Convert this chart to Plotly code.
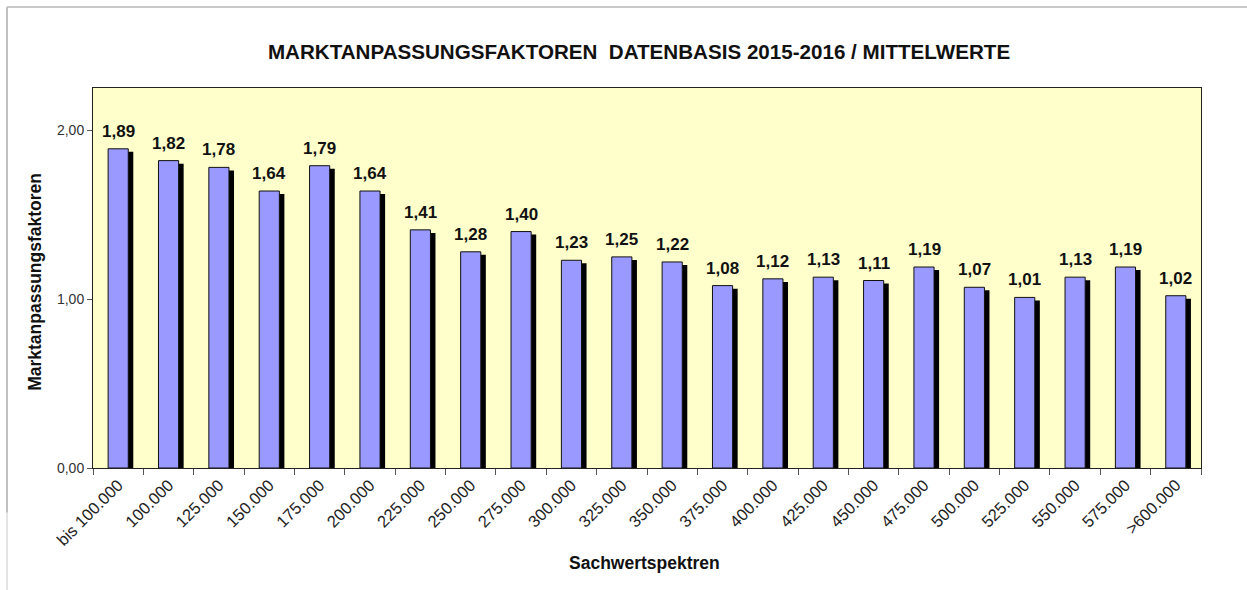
import plotly.graph_objects as go

categories = ["bis 100.000", "100.000", "125.000", "150.000", "175.000", "200.000",
              "225.000", "250.000", "275.000", "300.000", "325.000", "350.000",
              "375.000", "400.000", "425.000", "450.000", "475.000", "500.000",
              "525.000", "550.000", "575.000", ">600.000"]
values = [1.89, 1.82, 1.78, 1.64, 1.79, 1.64, 1.41, 1.28, 1.40, 1.23, 1.25, 1.22,
          1.08, 1.12, 1.13, 1.11, 1.19, 1.07, 1.01, 1.13, 1.19, 1.02]
y_ticks = [0, 1, 2]

FONT = "Liberation Sans, Arial, sans-serif"

fig = go.Figure()
# shadow
fig.add_bar(x=categories, y=values, base=-0.018, width=0.4, offset=-0.1,
            marker=dict(color="#000000", line=dict(width=0)), hoverinfo="skip",
            showlegend=False)
# main bars
fig.add_bar(x=categories, y=values, width=0.4, offset=-0.2,
            marker=dict(color="#9999FF", line=dict(color="#111111", width=1)),
            showlegend=False)

for i, v in enumerate(values):
    fig.add_annotation(x=i, y=v, text=f"{v:.2f}".replace(".", ","), showarrow=False,
                       yanchor="bottom", yshift=6,
                       font=dict(family=FONT, size=17, color="#111111", weight="bold"))

fig.add_annotation(x=0.498, y=-0.25, xref="paper", yref="paper", text="Sachwertspektren",
                   showarrow=False, xanchor="center", yanchor="middle",
                   font=dict(family=FONT, size=17.5, color="#111111", weight="bold"))
fig.add_annotation(x=-0.0523, y=0.49, xref="paper", yref="paper", text="Marktanpassungsfaktoren",
                   showarrow=False, xanchor="center", yanchor="middle", textangle=-90,
                   font=dict(family=FONT, size=17.5, color="#111111", weight="bold"))

fig.update_layout(
    width=1247, height=590,
    margin=dict(l=93, r=46, t=88, b=122, autoexpand=False),
    paper_bgcolor="white", plot_bgcolor="#FFFFCC",
    barmode="overlay", separators=",.",
    font=dict(family=FONT, color="#222222"),
    title=dict(text="MARKTANPASSUNGSFAKTOREN  DATENBASIS 2015-2016 / MITTELWERTE",
               x=639 / 1247, xanchor="center", y=1 - 52 / 590, yanchor="middle",
               font=dict(family=FONT, size=20.6, color="#111111", weight="bold")),
    xaxis=dict(type="category", tickson="boundaries", ticks="outside", ticklen=6,
               tickcolor="#555555", tickangle=-45, showline=True, mirror=True,
               linecolor="#222222", linewidth=1, showgrid=False,
               range=[-0.5, len(categories) - 0.5],
               tickfont=dict(family=FONT, size=16.5, color="#222222")),
    yaxis=dict(range=[0, 2.25], tickvals=y_ticks, tickformat=".2f", ticks="outside",
               ticklen=5, tickcolor="#555555", showline=True, mirror=True,
               linecolor="#222222", linewidth=1, showgrid=False, zeroline=False,
               tickfont=dict(family=FONT, size=14, color="#333333")),
    shapes=[
        dict(type="line", xref="paper", yref="paper", x0=-0.0776, x1=1.1, y0=1.2132, y1=1.2132,
             line=dict(color="#C8C8C8", width=2)),
        dict(type="line", xref="paper", yref="paper", x0=-0.0776, x1=-0.0776, y0=1.2132, y1=-0.118,
             line=dict(color="#C0C0C0", width=2)),
        dict(type="line", xref="paper", yref="paper", x0=-0.0776, x1=-0.0776, y0=-0.118, y1=-0.4,
             line=dict(color="#E4E4E4", width=2)),
    ],
)

fig.write_html("out.html", config={"displayModeBar": False},
               post_script="document.body.style.margin='0';document.body.style.overflow='hidden';")
